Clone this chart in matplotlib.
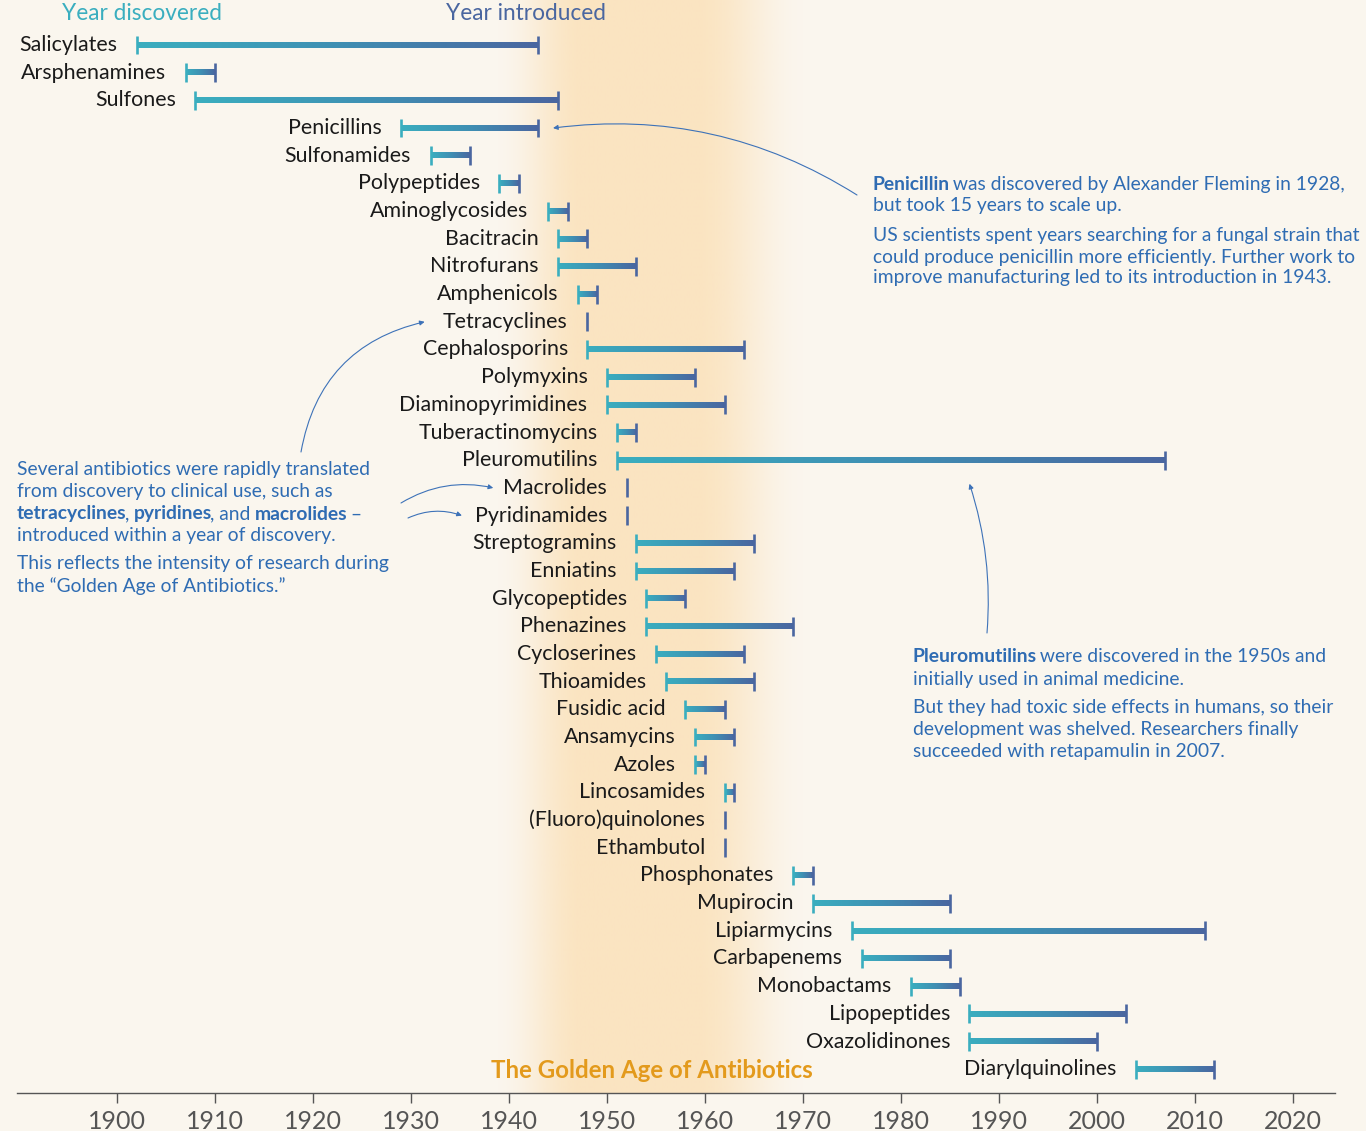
import numpy as np
import matplotlib.pyplot as plt
from matplotlib.colors import LinearSegmentedColormap, to_rgb

plt.rcParams['font.family'] = ['Lato', 'DejaVu Sans']

# antibiotic classes: year discovered -> year introduced
classes = ['Salicylates', 'Arsphenamines', 'Sulfones', 'Penicillins', 'Sulfonamides',
           'Polypeptides', 'Aminoglycosides', 'Bacitracin', 'Nitrofurans', 'Amphenicols',
           'Tetracyclines', 'Cephalosporins', 'Polymyxins', 'Diaminopyrimidines',
           'Tuberactinomycins', 'Pleuromutilins', 'Macrolides', 'Pyridinamides',
           'Streptogramins', 'Enniatins', 'Glycopeptides', 'Phenazines', 'Cycloserines',
           'Thioamides', 'Fusidic acid', 'Ansamycins', 'Azoles', 'Lincosamides',
           '(Fluoro)quinolones', 'Ethambutol', 'Phosphonates', 'Mupirocin', 'Lipiarmycins',
           'Carbapenems', 'Monobactams', 'Lipopeptides', 'Oxazolidinones', 'Diarylquinolines']
discovered = [1902, 1907, 1908, 1929, 1932, 1939, 1944, 1945, 1945, 1947,
              1948, 1948, 1950, 1950, 1951, 1951, 1952, 1952, 1953, 1953,
              1954, 1954, 1955, 1956, 1958, 1959, 1959, 1962, 1962, 1962,
              1969, 1971, 1975, 1976, 1981, 1987, 1987, 2004]
introduced = [1943, 1910, 1945, 1943, 1936, 1941, 1946, 1948, 1953, 1949,
              1948, 1964, 1959, 1962, 1953, 2007, 1952, 1952, 1965, 1963,
              1958, 1969, 1964, 1965, 1962, 1963, 1960, 1963, 1962, 1962,
              1971, 1985, 2011, 1985, 1986, 2003, 2000, 2012]
year_ticks = list(range(1900, 2021, 10))

W, H = 1366, 1131
BG = '#faf6ee'
TEAL = '#3aaebf'
DARK = '#4a66a0'
BLUE = '#2f6cb3'
ORANGE = '#e39a1c'

fig = plt.figure(figsize=(W / 100, H / 100), dpi=100, facecolor=BG)
ax = fig.add_axes([17 / W, (H - 1093) / H, (1335 - 17) / W, 1093 / H])
ax.set_facecolor(BG)
x0, x1 = 1889.8, 2024.3
y_bot, y_top = 37.86, -1.626
ax.set_xlim(x0, x1)
ax.set_ylim(y_bot, y_top)

# golden age band, soft edges
xs = np.linspace(1934, 1975, 500)
def smooth(t):
    t = np.clip(t, 0, 1)
    return t * t * (3 - 2 * t)
alpha = smooth((xs - 1938.5) / 9.0) * (1 - smooth((xs - 1959.0) / 11.5))
band = np.zeros((2, len(xs), 4))
band[..., :3] = to_rgb('#fbe2bb')
band[..., 3] = alpha * 0.88
ax.imshow(band, extent=(1934, 1975, y_bot, y_top), aspect='auto',
          interpolation='bilinear', zorder=0)

cmap = LinearSegmentedColormap.from_list('bar', [TEAL, '#3f8fb3', DARK])
grad = np.linspace(0, 1, 256).reshape(1, -1)
bh = 0.1
cap = 0.34
for i, (name, s, e) in enumerate(zip(classes, discovered, introduced)):
    if e > s:
        ax.imshow(grad, cmap=cmap, extent=(s, e, i + bh, i - bh), aspect='auto',
                  interpolation='bilinear', zorder=3)
        ax.vlines(s, i - cap, i + cap, color=TEAL, lw=1.9, zorder=4)
    ax.vlines(e, i - cap, i + cap, color=DARK, lw=1.9, zorder=4)
    ax.annotate(name, (s, i), xytext=(-14, 0), textcoords='offset points',
                ha='right', va='center', fontsize=15.4, color='#1a1a1a', zorder=5)

ax.set_xlim(x0, x1)
ax.set_ylim(y_bot, y_top)

for sp in ['top', 'left', 'right']:
    ax.spines[sp].set_visible(False)
ax.spines['bottom'].set_color('#555555')
ax.spines['bottom'].set_linewidth(1)
ax.set_yticks([])
ax.set_xticks(year_ticks)
ax.tick_params(axis='x', direction='out', length=7, width=1, color='#555555',
               labelsize=18, labelcolor='#555555', pad=5)

def ftext(x, y, s, **kw):
    return fig.text(x / W, 1 - y / H, s, va='center', **kw)

ftext(142, 13, 'Year discovered', ha='center', fontsize=16.3, color=TEAL)
ftext(526, 13, 'Year introduced', ha='center', fontsize=16.3, color=DARK)
ftext(652, 1070, 'The Golden Age of Antibiotics', ha='center', fontsize=17.3,
      fontweight='bold', color=ORANGE)

renderer = fig.canvas.get_renderer()

def rich_line(x, y, parts, size=13.9):
    for txt, weight in parts:
        t = ftext(x, y, txt, ha='left', fontsize=size, fontweight=weight, color=BLUE)
        x = t.get_window_extent(renderer).x1 - (2 if weight == 'bold' else 0)

n, b = 'normal', 'bold'
rich_line(873, 184, [('Penicillin', b), (' was discovered by Alexander Fleming in 1928,', n)])
rich_line(873, 206, [('but took 15 years to scale up.', n)])
rich_line(873, 235, [('US scientists spent years searching for a fungal strain that', n)])
rich_line(873, 257, [('could produce penicillin more efficiently. Further work to', n)])
rich_line(873, 278, [('improve manufacturing led to its introduction in 1943.', n)])

rich_line(17, 470, [('Several antibiotics were rapidly translated', n)])
rich_line(17, 492, [('from discovery to clinical use, such as', n)])
rich_line(17, 514, [('tetracyclines', b), (', ', n), ('pyridines', b), (', and ', n),
                    ('macrolides', b), (' \u2013', n)])
rich_line(17, 536, [('introduced within a year of discovery.', n)])
rich_line(17, 564, [('This reflects the intensity of research during', n)])
rich_line(17, 586, [('the \u201cGolden Age of Antibiotics.\u201d', n)])

rich_line(913, 657, [('Pleuromutilins', b), (' were discovered in the 1950s and', n)])
rich_line(913, 679, [('initially used in animal medicine.', n)])
rich_line(913, 708, [('But they had toxic side effects in humans, so their', n)])
rich_line(913, 730, [('development was shelved. Researchers finally', n)])
rich_line(913, 751, [('succeeded with retapamulin in 2007.', n)])

def arrow(target, start_px, rad):
    ax.annotate('', xy=target, xycoords='data',
                xytext=(start_px[0], H - start_px[1]), textcoords='figure pixels',
                arrowprops=dict(arrowstyle='-|>', color='#3d72b8', lw=0.8,
                                mutation_scale=7, shrinkA=0, shrinkB=0,
                                connectionstyle=f'arc3,rad={rad}'), zorder=6)

arrow((1944.5, 3.0), (857, 195), 0.18)
arrow((1931.4, 10.0), (301, 452), -0.33)
arrow((1938.4, 16.0), (401, 503), -0.2)
arrow((1935.2, 17.0), (408, 518), -0.2)
arrow((1987.0, 15.85), (987, 633), 0.1)

fig.savefig('out.png', dpi=100, facecolor=BG)
